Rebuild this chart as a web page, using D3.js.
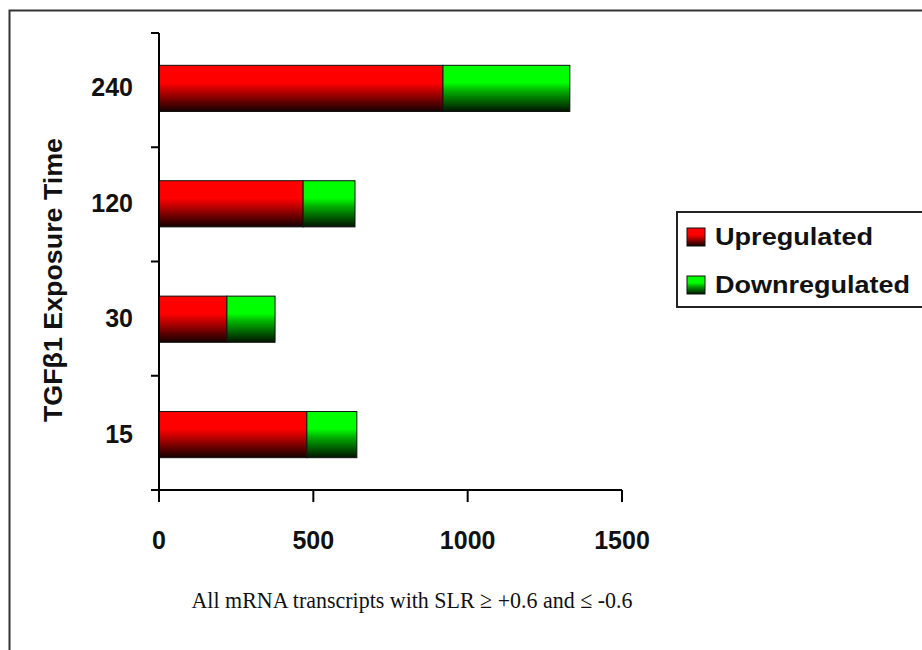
<!DOCTYPE html>
<html><head><meta charset="utf-8">
<script src="https://cdn.jsdelivr.net/npm/d3@7"></script>
<style>body{margin:0;background:#fff}svg{display:block}</style>
</head><body>
<svg id="c" width="922" height="650"></svg>
<script>
const categories = ["240", "120", "30", "15"];
const upregulated = [920, 467, 220, 479];
const downregulated = [411, 168, 156, 162];
const seriesNames = ["Upregulated", "Downregulated"];
const xTicks = [0, 500, 1000, 1500];
const yTitle = "TGFβ1 Exposure Time";
const xTitle = "All mRNA transcripts with SLR ≥ +0.6 and ≤ -0.6";

const svg = d3.select("#c");
const defs = svg.append("defs");
function grad(id, top, mid, bot) {
  const g = defs.append("linearGradient").attr("id", id).attr("x1", 0).attr("y1", 0).attr("x2", 0).attr("y2", 1);
  g.append("stop").attr("offset", "0%").attr("stop-color", top);
  g.append("stop").attr("offset", "38%").attr("stop-color", top);
  g.append("stop").attr("offset", "55%").attr("stop-color", mid);
  g.append("stop").attr("offset", "100%").attr("stop-color", bot);
}
grad("gRed", "#ff0000", "#c00000", "#140000");
grad("gGreen", "#00ff00", "#00b000", "#001400");
const fills = ["url(#gRed)", "url(#gGreen)"];

// outer frame
svg.append("rect").attr("x", 9.5).attr("y", 10.5).attr("width", 940).attr("height", 700)
  .attr("fill", "none").attr("stroke", "#333").attr("stroke-width", 2);

const x = d3.scaleLinear().domain([0, 1500]).range([159, 622]);
const y = d3.scaleBand().domain(categories).range([33, 490]).paddingInner(0.6).paddingOuter(0.28);

const data = categories.map((c, i) => ({ cat: c, vals: [upregulated[i], downregulated[i]] }));
const stacked = d3.stack().keys([0, 1]).value((d, k) => d.vals[k])(data);

stacked.forEach((layer, li) => {
  svg.append("g").selectAll("rect").data(layer).join("rect")
    .attr("x", d => x(d[0]))
    .attr("y", d => y(d.data.cat))
    .attr("width", d => x(d[1]) - x(d[0]))
    .attr("height", y.bandwidth())
    .attr("fill", fills[li])
    .attr("stroke", "#111").attr("stroke-width", 1);
});

// y axis
const ya = svg.append("g");
ya.append("line").attr("x1", 159).attr("x2", 159).attr("y1", 33).attr("y2", 490).attr("stroke", "#000").attr("stroke-width", 2);
const bounds = d3.range(categories.length + 1).map(i => 33 + i * (457 / categories.length));
ya.selectAll("line.t").data(bounds).join("line").attr("class", "t")
  .attr("x1", 151).attr("x2", 159).attr("y1", d => d).attr("y2", d => d)
  .attr("stroke", "#000").attr("stroke-width", 2);
ya.selectAll("text").data(categories).join("text")
  .attr("x", 133).attr("y", d => y(d) + y.bandwidth() / 2 + 8)
  .attr("text-anchor", "end")
  .attr("font-family", "Liberation Sans, Arial, sans-serif").attr("font-weight", "bold").attr("font-size", 25)
  .attr("fill", "#111").text(d => d);

// x axis
const xa = svg.append("g");
xa.append("line").attr("x1", 159).attr("x2", 622).attr("y1", 490).attr("y2", 490).attr("stroke", "#000").attr("stroke-width", 2);
xa.selectAll("line.t").data(xTicks).join("line").attr("class", "t")
  .attr("x1", d => x(d)).attr("x2", d => x(d)).attr("y1", 490).attr("y2", 502)
  .attr("stroke", "#000").attr("stroke-width", 2);
xa.selectAll("text").data(xTicks).join("text")
  .attr("x", d => x(d)).attr("y", 549).attr("text-anchor", "middle")
  .attr("font-family", "Liberation Sans, Arial, sans-serif").attr("font-weight", "bold").attr("font-size", 25)
  .attr("fill", "#111").text(d => d);

// y title
svg.append("text").attr("transform", "translate(62,280) rotate(-90)")
  .attr("text-anchor", "middle")
  .attr("font-family", "Liberation Sans, Arial, sans-serif").attr("font-weight", "bold").attr("font-size", 25)
  .attr("textLength", 284).attr("lengthAdjust", "spacingAndGlyphs")
  .attr("fill", "#111").text(yTitle);

// x title
svg.append("text").attr("x", 412).attr("y", 608).attr("text-anchor", "middle")
  .attr("font-family", "Liberation Serif, Times New Roman, serif").attr("font-size", 24)
  .attr("textLength", 441).attr("lengthAdjust", "spacingAndGlyphs")
  .attr("fill", "#111").text(xTitle);

// legend
const lg = svg.append("g");
lg.append("rect").attr("x", 677).attr("y", 212).attr("width", 300).attr("height", 95)
  .attr("fill", "#fff").attr("stroke", "#222").attr("stroke-width", 2);
const legW = [158, 195];
seriesNames.forEach((n, i) => {
  const yy = 228 + i * 48;
  lg.append("rect").attr("x", 687).attr("y", yy).attr("width", 18).attr("height", 18)
    .attr("fill", fills[i]).attr("stroke", "#111").attr("stroke-width", 1);
  lg.append("text").attr("x", 715).attr("y", yy + 17)
    .attr("font-family", "Liberation Sans, Arial, sans-serif").attr("font-weight", "bold").attr("font-size", 24)
    .attr("textLength", legW[i]).attr("lengthAdjust", "spacingAndGlyphs")
    .attr("fill", "#111").text(n);
});
</script>
</body></html>
